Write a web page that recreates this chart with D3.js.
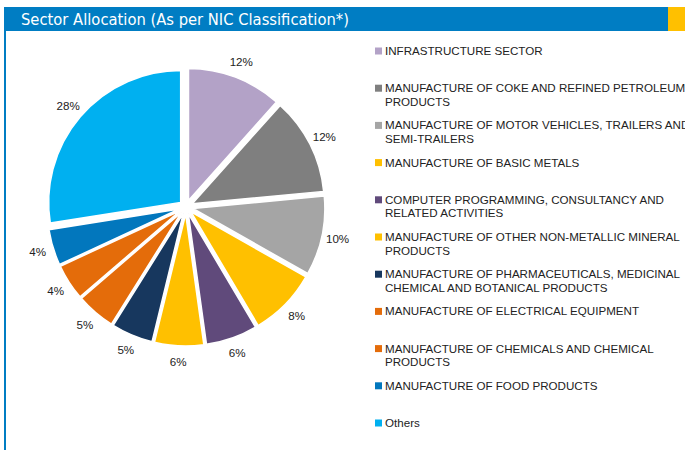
<!DOCTYPE html>
<html>
<head>
<meta charset="utf-8">
<script src="https://cdn.jsdelivr.net/npm/d3@7/dist/d3.min.js"></script>
<style>
  body { margin: 0; background: #fff; }
  svg { display: block; }
</style>
</head>
<body>
<div id="chart"></div>
<script>
// sector allocation data
var sectors = [
  ["INFRASTRUCTURE SECTOR"],
  ["MANUFACTURE OF COKE AND REFINED PETROLEUM", "PRODUCTS"],
  ["MANUFACTURE OF MOTOR VEHICLES, TRAILERS AND", "SEMI-TRAILERS"],
  ["MANUFACTURE OF BASIC METALS"],
  ["COMPUTER PROGRAMMING, CONSULTANCY AND", "RELATED ACTIVITIES"],
  ["MANUFACTURE OF OTHER NON-METALLIC MINERAL", "PRODUCTS"],
  ["MANUFACTURE OF PHARMACEUTICALS, MEDICINAL", "CHEMICAL AND BOTANICAL PRODUCTS"],
  ["MANUFACTURE OF ELECTRICAL EQUIPMENT"],
  ["MANUFACTURE OF CHEMICALS AND CHEMICAL", "PRODUCTS"],
  ["MANUFACTURE OF FOOD PRODUCTS"],
  ["Others"]
];
var shares = [11.6, 11.9, 9.7, 8.3, 6.3, 6.0, 5.1, 4.8, 4.4, 4.4, 27.5];
var shareLabels = ["12%", "12%", "10%", "8%", "6%", "6%", "5%", "5%", "4%", "4%", "28%"];
var colors = ["#B3A2C7", "#7F7F7F", "#A5A5A5", "#FFC000", "#604A7B", "#FFC000",
              "#17375E", "#E46C0A", "#E46C0A", "#0277BD", "#00B0F0"];

var width = 685, height = 450;
var svg = d3.select("#chart").append("svg")
  .attr("width", width)
  .attr("height", height);

// header bar
svg.append("rect").attr("x", 4).attr("y", 7).attr("width", 664).attr("height", 24).attr("fill", "#007DC3");
svg.append("rect").attr("x", 668).attr("y", 7).attr("width", 17).attr("height", 24).attr("fill", "#FFC000");
svg.append("rect").attr("x", 4).attr("y", 31).attr("width", 2).attr("height", height - 31).attr("fill", "#007DC3");
svg.append("text")
  .attr("x", 21).attr("y", 25)
  .attr("fill", "#fff")
  .style("font-family", "'DejaVu Sans Condensed', 'DejaVu Sans', sans-serif")
  .style("font-size", "16.4px")
  .text("Sector Allocation (As per NIC Classification*)");

// pie
var cx = 186, cy = 207, radius = 132, explode = 7;
var pie = d3.pie().sort(null).value(function(d) { return d; });
var arc = d3.arc().innerRadius(0).outerRadius(radius);
var arcs = pie(shares);

var g = svg.append("g").attr("transform", "translate(" + cx + "," + cy + ")");

g.selectAll("path.slice")
  .data(arcs)
  .enter().append("path")
  .attr("class", "slice")
  .attr("d", arc)
  .attr("fill", function(d, i) { return colors[i]; })
  .attr("stroke", "#fff")
  .attr("stroke-width", 1.5)
  .attr("transform", function(d) {
    var a = (d.startAngle + d.endAngle) / 2;
    return "translate(" + (Math.sin(a) * explode) + "," + (-Math.cos(a) * explode) + ")";
  });

var labelR = 155;
g.selectAll("text.pct")
  .data(arcs)
  .enter().append("text")
  .attr("class", "pct")
  .attr("x", function(d) { return Math.sin((d.startAngle + d.endAngle) / 2) * labelR; })
  .attr("y", function(d) { return -Math.cos((d.startAngle + d.endAngle) / 2) * labelR; })
  .attr("dy", "0.35em")
  .attr("text-anchor", "middle")
  .style("font-family", "'Liberation Sans', Arial, sans-serif")
  .style("font-size", "11.6px")
  .attr("fill", "#222")
  .text(function(d, i) { return shareLabels[i]; });

// legend
var legendY = d3.scaleLinear().domain([0, sectors.length - 1]).range([51, 423]);
var legend = svg.selectAll("g.legend")
  .data(sectors)
  .enter().append("g")
  .attr("class", "legend")
  .attr("transform", function(d, i) { return "translate(375," + legendY(i) + ")"; });

legend.append("rect")
  .attr("x", 0).attr("y", -3.5)
  .attr("width", 7).attr("height", 7)
  .attr("fill", function(d, i) { return colors[i]; });

legend.append("text")
  .style("font-family", "'Liberation Sans', Arial, sans-serif")
  .style("font-size", "11.6px")
  .attr("fill", "#222")
  .selectAll("tspan")
  .data(function(d) { return d; })
  .enter().append("tspan")
  .attr("x", 10)
  .attr("y", function(d, j) { return j * 13.5; })
  .attr("dy", "0.35em")
  .text(function(d) { return d; });
</script>
</body>
</html>
